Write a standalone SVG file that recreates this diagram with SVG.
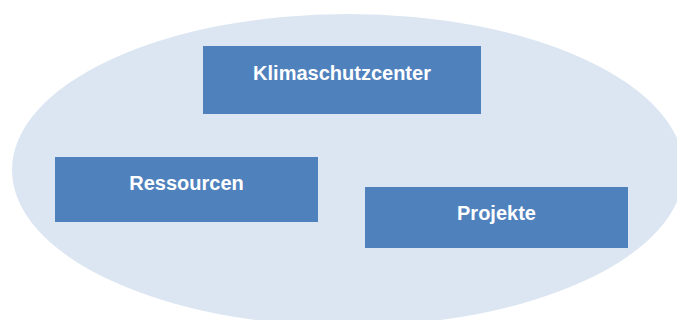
<svg xmlns="http://www.w3.org/2000/svg" width="677" height="320" viewBox="0 0 677 320">
<style>
.box{fill:#4f81bd;}
.lbl{font-family:"Liberation Sans",Arial,sans-serif;font-weight:bold;font-size:20px;fill:#ffffff;text-anchor:middle;}
</style>
<rect width="677" height="320" fill="#ffffff"/>
<ellipse id="background" cx="348" cy="170" rx="336" ry="156" fill="#dce6f2"/>
<g id="connectors"></g>
<g id="klimaschutzcenter">
<rect class="box" x="203" y="46" width="278" height="68"/>
<text class="lbl" x="342" y="80">Klimaschutzcenter</text>
</g>
<g id="ressourcen">
<rect class="box" x="55" y="157" width="263" height="65"/>
<text class="lbl" x="186.5" y="190">Ressourcen</text>
</g>
<g id="projekte">
<rect class="box" x="365" y="187" width="263" height="61"/>
<text class="lbl" x="496.5" y="220">Projekte</text>
</g>
</svg>
